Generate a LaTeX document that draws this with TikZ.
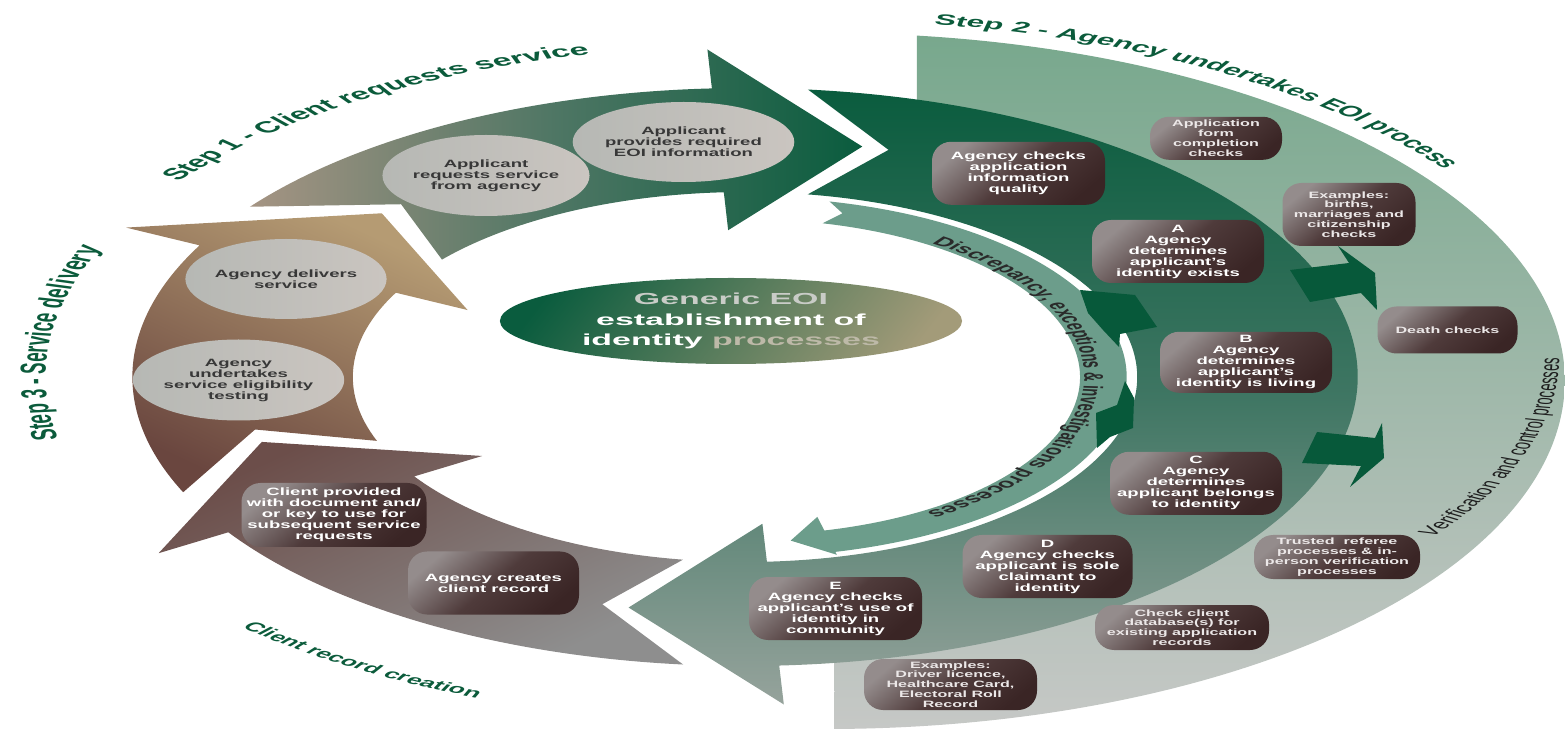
\documentclass[tikz,border=0pt]{standalone}
\usepackage{fontspec}
\setmainfont{Liberation Sans}
\newfontfamily\boxfont[FakeStretch=1.75]{Liberation Sans}
\usetikzlibrary{shapes.geometric,decorations.text}
\definecolor{titlegreen}{HTML}{0B5B3B}
\definecolor{sOneL}{HTML}{A59483}
\definecolor{sOneM}{HTML}{4E7664}
\definecolor{sOneR}{HTML}{0A5C3E}
\definecolor{sTwoT}{HTML}{0A5C3E}
\definecolor{sTwoM}{HTML}{3F7663}
\definecolor{sTwoB}{HTML}{96A39C}
\definecolor{recA}{HTML}{6C4E4A}
\definecolor{recB}{HTML}{8E8E8E}
\definecolor{brA}{HTML}{B59B73}
\definecolor{brB}{HTML}{6A463F}
\definecolor{lightT}{HTML}{78A88D}
\definecolor{lightB}{HTML}{C6C8C6}
\definecolor{discCol}{HTML}{6C9D8B}
\definecolor{arrGreen}{HTML}{07593A}
\definecolor{ellL}{HTML}{B6B8B4}
\definecolor{ellR}{HTML}{CAC5C0}
\definecolor{ellText}{HTML}{383838}
\definecolor{dbT}{HTML}{948C8C}
\definecolor{dbM}{HTML}{4F3B3B}
\definecolor{dbB}{HTML}{3A2525}
\definecolor{eoiT}{HTML}{0A5C3E}
\definecolor{eoiB}{HTML}{A39B79}
\definecolor{eoiTxt}{HTML}{C9CCC7}
\definecolor{eoiTxtB}{HTML}{BDB9A8}
\definecolor{discText}{HTML}{2A2A2A}
\definecolor{verText}{HTML}{1E1E1E}
\definecolor{smallText}{HTML}{ECE8E8}

\tikzset{
  stepone/.style={left color=sOneL, right color=sOneR, middle color=sOneM},
  steptwo/.style={top color=sTwoT, bottom color=sTwoB, middle color=sTwoM},
  recstyle/.style={top color=recA, bottom color=recB, shading angle=45},
  stepthree/.style={top color=brA, bottom color=brB, shading angle=315},
  lightband/.style={top color=lightT, bottom color=lightB},
  greenarrow/.style={fill=arrGreen},
  greyell/.style={ellipse, left color=ellL, right color=ellR, text=ellText, align=center,
    inner sep=0pt, font=\boxfont\bfseries\fontsize{10.6}{11}\selectfont},
  darkbox/.style={rounded corners=19pt, top color=dbT, bottom color=dbB, middle color=dbM,
    shading angle=40, text=white, align=center, inner sep=0pt,
    font=\boxfont\bfseries\fontsize{10.6}{11}\selectfont},
  smallbox/.style={darkbox, text=smallText, font=\boxfont\bfseries\fontsize{9.2}{9.8}\selectfont},
}

% #1 style, #2 tail outer, #3 tail inner, #4 notch, #5 head base, #6 tip
\newcommand\ringarrow[6]{%
  \path[#1] (#2:289) arc[start angle=#2,end angle=#5,radius=289] -- (#5:328) -- (#6:237)
    -- (#5:147) -- (#5:185) arc[start angle=#5,end angle=#3,radius=185] -- (#4:237) -- cycle;}

\begin{document}
\begin{tikzpicture}[x=1pt,y=1pt]
\useasboundingbox (0,0) rectangle (1565,731);

\begin{scope}[transform canvas={xscale=2.12}]
  % verification band
  \path[lightband] (432.5,695.4) arc[start angle=83,end angle=-89.4,radius=348]
     -- (393.4,120) arc[start angle=-79.8,end angle=70,radius=237] -- cycle;

  \begin{scope}[shift={(351.42,354)}]
    \ringarrow{stepone}{143.9}{140.6}{133.2}{93.1}{76.5}
    \ringarrow{steptwo}{84.1}{80.8}{73.4}{-86.8}{-103.4}
    \ringarrow{recstyle}{-95.8}{-99.1}{-106.5}{-147.5}{-164.1}
    \ringarrow{stepthree}{203.5}{200.2}{192.8}{152.9}{136.3}
    % discrepancy arrow
    \path[fill=discCol] (77.2:180) arc[start angle=77.2,end angle=-76.3,radius=180]
      -- (-76.3:183) -- (-82.5:165) -- (-76.3:144) -- (-76.3:158)
      arc[start angle=-76.3,end angle=76.6,radius=158] -- (74.3:170) -- cycle;

    % curved titles
    \path[decorate,decoration={text along path,text align=center,text color=titlegreen,
      text={|\bfseries\fontsize{16}{16}\selectfont|Step 1 - Client requests service}}]
      (150:331) arc[start angle=150,end angle=96.6,radius=331];
    \path[decorate,decoration={text along path,text align=center,text color=titlegreen,
      text={|\bfseries\fontsize{17}{17}\selectfont|Step 3 - Service delivery}}]
      (194:330) arc[start angle=194,end angle=154,radius=330];
    \path[decorate,decoration={text along path,text align=center,text color=titlegreen,
      text={|\bfseries\fontsize{12.8}{12.8}\selectfont|Client record creation}}]
      (222.5:345) arc[start angle=222.5,end angle=252.5,radius=345];
    \path[decorate,decoration={text along path,text align=center,text color=discText,
      text={|\bfseries\fontsize{12.8}{12.8}\selectfont|Discrepancy, exceptions {\&} investigations processes}}]
      (72:160) arc[start angle=72,end angle=-73,radius=160];
  \end{scope}

  \begin{scope}[shift={(390,350)}]
    \path[decorate,decoration={text along path,text align=center,text color=titlegreen,
      text={|\bfseries\fontsize{15}{15}\selectfont|Step 2 - Agency undertakes EOI process}}]
      (88:360) arc[start angle=88,end angle=30,radius=360];
  \end{scope}
  \begin{scope}[shift={(433.5,374)}]
    \path[decorate,decoration={text along path,text align=center,text color=verText,
      text={|\fontsize{12.8}{12.8}\selectfont|Verification and control processes}}]
      (-42:302) arc[start angle=-42,end angle=5,radius=302];
  \end{scope}

  % central ellipse
  \node[ellipse, minimum width=218, minimum height=86, inner sep=0pt,
        top color=eoiT, bottom color=eoiB, shading angle=70, align=center,
        font=\bfseries\fontsize{16}{20.5}\selectfont] (eoi) at (344.8,410)
    {\textcolor{eoiTxt}{Generic EOI}\\ \textcolor{white}{establishment of}\\
     \textcolor{white}{identity} \textcolor{eoiTxtB}{processes}};
\end{scope}

% small green arrows
\path[greenarrow] (1290,461) -- (1349,468) -- (1338,485) -- (1375,458) -- (1377,421)
   -- (1361,438) -- (1310,429) -- cycle;
\path[greenarrow] (1317,299) -- (1375,293) -- (1382,308) -- (1384,273) -- (1350,244)
   -- (1361,265) -- (1302,268) -- cycle;
\path[greenarrow] (1080,441) -- (1135,436) -- (1157,404) -- (1120,397) -- (1119,384)
   -- (1103,401) -- (1088,418) -- cycle;
\path[greenarrow] (1125,350) -- (1134,333) -- (1133,303) -- (1110,294) -- (1097,283)
   -- (1096,318) -- (1117,326) -- cycle;

% grey ellipses
\node[greyell, minimum width=171, minimum height=81] (req) at (486,555.5)
  {Applicant\\requests service\\from agency};
\node[greyell, minimum width=173, minimum height=80] (prov) at (683.5,589)
  {Applicant\\provides required\\EOI information};
\node[greyell, minimum width=172, minimum height=80] (deliv) at (286,452)
  {Agency delivers\\service};
\node[greyell, minimum width=173, minimum height=81] (elig) at (238.5,351)
  {Agency\\undertakes\\service eligibility\\testing};

% dark boxes
\node[darkbox, minimum width=173, minimum height=63] (quality) at (1018.5,557.7)
  {Agency checks\\application\\information\\quality};
\node[smallbox, minimum width=132, minimum height=43] (form) at (1216,592.7)
  {Application\\form\\completion\\checks};
\node[smallbox, minimum width=133, minimum height=63] (births) at (1349,516.5)
  {Examples:\\births,\\marriages and\\citizenship\\checks};
\node[darkbox, minimum width=172, minimum height=63] (boxA) at (1178,479.5)
  {A\\Agency\\determines\\applicant’s\\identity exists};
\node[smallbox, minimum width=140, minimum height=47] (death) at (1447.5,401)
  {Death checks};
\node[darkbox, minimum width=172, minimum height=61] (boxB) at (1246,368.7)
  {B\\Agency\\determines\\applicant’s\\identity is living};
\node[darkbox, minimum width=172, minimum height=63] (boxC) at (1196,247.7)
  {C\\Agency\\determines\\applicant belongs\\to identity};
\node[smallbox, minimum width=166, minimum height=44] (trusted) at (1337,174)
  {Trusted\ \ referee\\processes \& in-\\person verification\\processes};
\node[darkbox, minimum width=170, minimum height=63] (boxD) at (1047.5,164.5)
  {D\\Agency checks\\applicant is sole\\claimant to\\identity};
\node[smallbox, minimum width=174, minimum height=45] (dbase) at (1182,103.5)
  {Check client\\database(s) for\\existing application\\records};
\node[darkbox, minimum width=173, minimum height=63] (boxE) at (835.5,122.5)
  {E\\Agency checks\\applicant’s use of\\identity in\\community};
\node[smallbox, minimum width=173, minimum height=51] (driver) at (950.5,46.5)
  {Examples:\\Driver licence,\\Healthcare Card,\\Electoral Roll\\Record};
\node[darkbox, minimum width=185, minimum height=64] (keydoc) at (334,216)
  {Client provided\\with document and/\\or key to use for\\subsequent service\\requests};
\node[darkbox, minimum width=171, minimum height=63] (record) at (493.5,148)
  {Agency creates\\client record};
\end{tikzpicture}
\end{document}
